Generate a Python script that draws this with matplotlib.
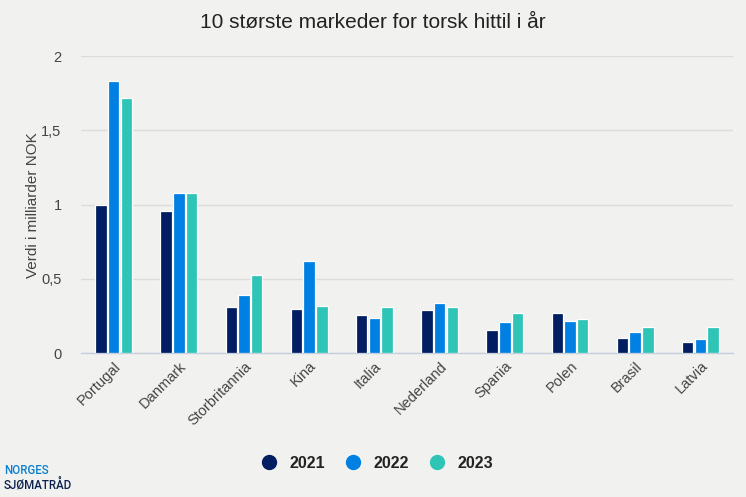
import matplotlib
matplotlib.use("Agg")
import matplotlib.pyplot as plt
import numpy as np
from matplotlib.lines import Line2D

plt.rcParams['font.family'] = ['Liberation Sans', 'DejaVu Sans']

categories = ["Portugal", "Danmark", "Storbritannia", "Kina", "Italia",
              "Nederland", "Spania", "Polen", "Brasil", "Latvia"]
v2021 = [1.00, 0.96, 0.31, 0.30, 0.26, 0.29, 0.16, 0.27, 0.105, 0.078]
v2022 = [1.83, 1.08, 0.39, 0.62, 0.24, 0.34, 0.21, 0.22, 0.14, 0.096]
v2023 = [1.72, 1.08, 0.53, 0.32, 0.31, 0.31, 0.27, 0.23, 0.18, 0.18]
series = [("2021", v2021, "#001e61"), ("2022", v2022, "#0080e3"), ("2023", v2023, "#2fc5b6")]
yticks = [0, 0.5, 1, 1.5, 2]
yticklabels = ["0", "0,5", "1", "1,5", "2"]

bg = "#f1f2f0"
fig = plt.figure(figsize=(7.46, 4.97), dpi=100, facecolor=bg)
ax = fig.add_axes([81/746, 1-353.3/497, (733-81)/746, (353.3-56)/497], facecolor=bg)

x = np.arange(len(categories))
pitch = 0.195
for i, (name, vals, col) in enumerate(series):
    ax.bar(x + (i-1)*pitch, vals, width=0.175, color=col, edgecolor="white", linewidth=0.9, zorder=3)

ax.set_xlim(-0.5, len(categories)-0.5)
ax.set_ylim(0, 2)
ax.set_yticks(yticks)
ax.set_yticklabels(yticklabels, color="#444444", fontsize=10.5)
ax.yaxis.grid(True, color="#dcdddb", linewidth=1)
ax.set_axisbelow(True)
for s in ["top", "right", "left"]:
    ax.spines[s].set_visible(False)
ax.spines["bottom"].set_color("#c5cedd")
ax.spines["bottom"].set_linewidth(1)
ax.tick_params(axis="y", length=0, pad=14)
ax.tick_params(axis="x", length=0, pad=4)
ax.set_xticks(x)
ax.set_xticklabels(categories, rotation=45, ha="right", rotation_mode="anchor",
                   color="#444444", fontsize=10.5)
ax.set_ylabel("Verdi i milliarder NOK", color="#444444", fontsize=11, labelpad=1)

fig.text(0.5, 1-22/497, "10 største markeder for torsk hittil i år", ha="center", va="center",
         fontsize=15, color="#222222")

handles = [Line2D([0], [0], marker="o", linestyle="", markersize=10, markerfacecolor=c,
                  markeredgecolor=c) for _, _, c in series]
leg = fig.legend(handles, [s[0] for s in series], loc="center", bbox_to_anchor=(0.5, 1-463/497),
                 ncol=3, frameon=False, handletextpad=0.3, columnspacing=0.75,
                 prop={"weight": "bold", "size": 11.5})
for t in leg.get_texts():
    t.set_color("#222222")

fig.text(4/746, 1-470.5/497, "NORGES", color="#0a7fd0", fontsize=8.3, fontweight="medium",
         family="Roboto", ha="left", va="center")
fig.text(4/746, 1-485/497, "SJØMATRÅD", color="#0d2150", fontsize=8.3, fontweight="medium",
         family="Roboto", ha="left", va="center")

fig.savefig("out.png", dpi=100, facecolor=bg)
